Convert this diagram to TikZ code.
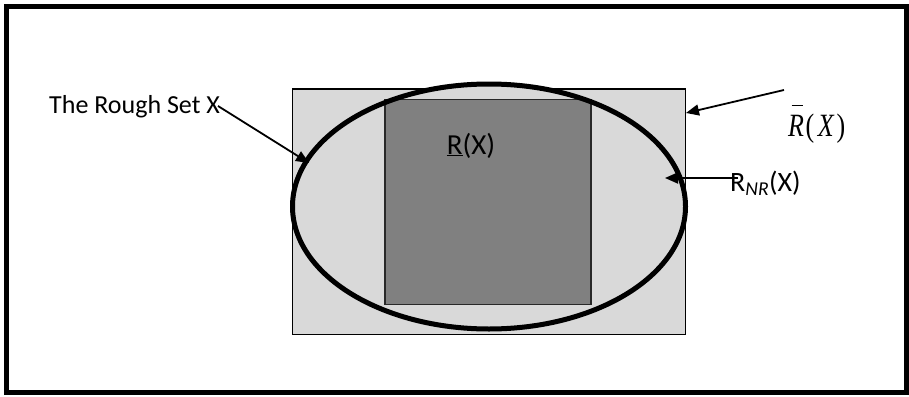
\documentclass[tikz,border=0pt]{standalone}
\usepackage{fontspec}
\setmainfont{Carlito}
\newfontfamily\tms{Liberation Serif}
\usetikzlibrary{arrows.meta}
\tikzset{
  lbl/.style={anchor=base west, inner sep=0pt, text=black},
  arr/.style={line width=1.8pt, -{Triangle[length=13pt,width=11pt]}},
}
\begin{document}
\begin{tikzpicture}[x=1pt,y=-1pt]
\useasboundingbox (0,0) rectangle (909,396);
% outer frame
\draw[line width=5pt] (6.5,6.5) rectangle (906,392.5);
% upper approximation rectangle
\fill[fill={rgb,255:red,217;green,217;blue,217}] (292.7,89) rectangle (685.7,334.7);
\draw[line width=1.5pt] (292.7,89) rectangle (685.7,334.7);
% ellipse fill
\fill[fill={rgb,255:red,217;green,217;blue,217}] (489,206.5) ellipse [x radius=196.5, y radius=122.5];
% lower approximation rectangle
\draw[line width=1.5pt, draw={rgb,255:red,40;green,40;blue,40}, fill={rgb,255:red,128;green,128;blue,128}] (385,99.3) rectangle (591,304.7);
% ellipse outline
\draw[line width=5pt] (489,206.5) ellipse [x radius=196.5, y radius=122.5];

% labels
\node[lbl, font=\fontsize{26}{30}\selectfont] (rs) at (49,113.3) {The Rough Set X};
\node[lbl, font=\fontsize{29}{34}\selectfont] (lo) at (446.7,154) {\underline{R}(X)};
\node[lbl, font=\fontsize{28}{33}\selectfont] (nr) at (730,191.7) {R\textsubscript{\itshape NR}(X)};
\node[lbl, font=\tms\fontsize{26}{31}\selectfont] (up) at (788,136) {\scalebox{1}[1.25]{\rlap{\kern3.5pt\raisebox{24pt}{\rule{11pt}{1pt}}}\itshape R\upshape\kern1.5pt(\kern3.5pt\itshape X\kern3pt\upshape)}};

% arrows
\coordinate (a1s) at (218,106);
\coordinate (a1e) at (309,163);
\coordinate (a2s) at (784,90);
\coordinate (a2e) at (686,113);
\coordinate (a3s) at (738,178);
\coordinate (a3e) at (665,178);
\draw[arr] (a1s) -- (a1e);
\draw[arr] (a2s) -- (a2e);
\draw[arr] (a3s) -- (a3e);
\end{tikzpicture}
\end{document}
